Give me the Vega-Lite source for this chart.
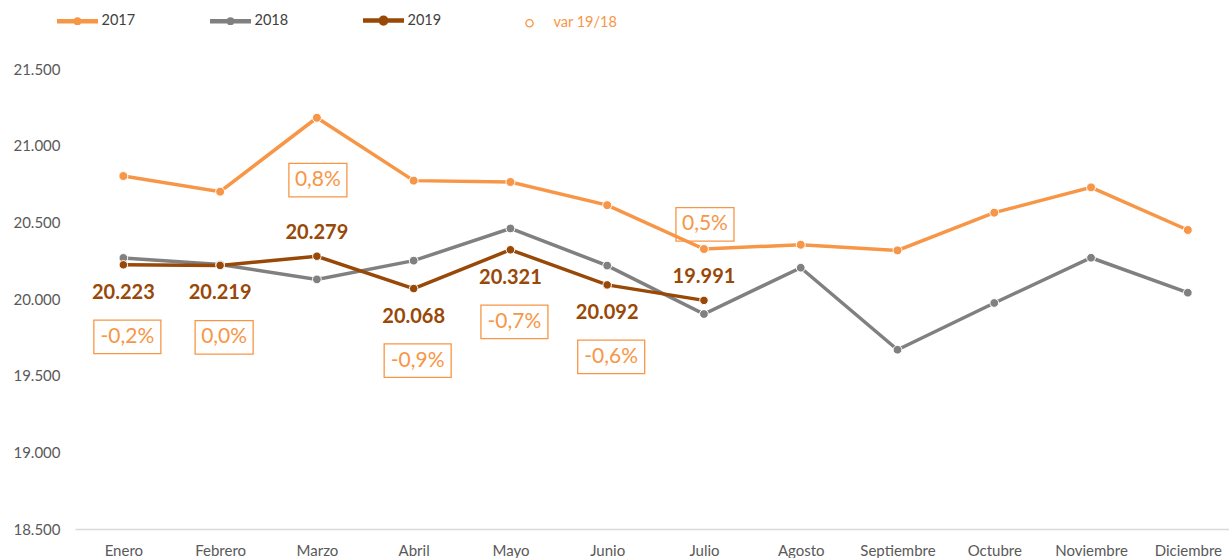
{
  "$schema": "https://vega.github.io/schema/vega-lite/v6.json",
  "width": 1154,
  "height": 460,
  "autosize": {"type": "none"},
  "padding": {"left": 75, "top": 69, "right": 0, "bottom": 29},
  "background": "white",
  "config": {
    "font": "Lato",
    "view": {"stroke": null},
    "locale": {"number": {"decimal": ",", "thousands": ".", "grouping": [3], "currency": ["", " €"], "minus": "-"}}
  },
  "datasets": {
    "main": [
      {"mes": "Enero", "serie": "2017", "valor": 20802},
      {"mes": "Febrero", "serie": "2017", "valor": 20700},
      {"mes": "Marzo", "serie": "2017", "valor": 21182},
      {"mes": "Abril", "serie": "2017", "valor": 20772},
      {"mes": "Mayo", "serie": "2017", "valor": 20763},
      {"mes": "Junio", "serie": "2017", "valor": 20612},
      {"mes": "Julio", "serie": "2017", "valor": 20326},
      {"mes": "Agosto", "serie": "2017", "valor": 20354},
      {"mes": "Septiembre", "serie": "2017", "valor": 20317},
      {"mes": "Octubre", "serie": "2017", "valor": 20563},
      {"mes": "Noviembre", "serie": "2017", "valor": 20728},
      {"mes": "Diciembre", "serie": "2017", "valor": 20450},
      {"mes": "Enero", "serie": "2018", "valor": 20268},
      {"mes": "Febrero", "serie": "2018", "valor": 20225},
      {"mes": "Marzo", "serie": "2018", "valor": 20128},
      {"mes": "Abril", "serie": "2018", "valor": 20250},
      {"mes": "Mayo", "serie": "2018", "valor": 20460},
      {"mes": "Junio", "serie": "2018", "valor": 20218},
      {"mes": "Julio", "serie": "2018", "valor": 19902},
      {"mes": "Agosto", "serie": "2018", "valor": 20204},
      {"mes": "Septiembre", "serie": "2018", "valor": 19669},
      {"mes": "Octubre", "serie": "2018", "valor": 19974},
      {"mes": "Noviembre", "serie": "2018", "valor": 20269},
      {"mes": "Diciembre", "serie": "2018", "valor": 20041},
      {"mes": "Enero", "serie": "2019", "valor": 20223, "var": -0.002},
      {"mes": "Febrero", "serie": "2019", "valor": 20219, "var": 0.0},
      {"mes": "Marzo", "serie": "2019", "valor": 20279, "var": 0.008},
      {"mes": "Abril", "serie": "2019", "valor": 20068, "var": -0.009},
      {"mes": "Mayo", "serie": "2019", "valor": 20321, "var": -0.007},
      {"mes": "Junio", "serie": "2019", "valor": 20092, "var": -0.006},
      {"mes": "Julio", "serie": "2019", "valor": 19991, "var": 0.005}
    ]
  },
  "data": {"name": "main"},
  "encoding": {
    "x": {
      "field": "mes", "type": "ordinal",
      "sort": ["Enero", "Febrero", "Marzo", "Abril", "Mayo", "Junio", "Julio", "Agosto", "Septiembre", "Octubre", "Noviembre", "Diciembre"],
      "scale": {"padding": 0.4627, "align": 0.54},
      "axis": {"title": null, "labelAngle": 0, "ticks": false, "domain": true, "domainColor": "#D9D9D9", "domainWidth": 1.5, "labelFontSize": 15, "labelColor": "#595959", "labelPadding": 14, "grid": false}
    },
    "y": {
      "field": "valor", "type": "quantitative",
      "scale": {"domain": [18500, 21500], "nice": false, "zero": false},
      "axis": {"title": null, "values": [18500, 19000, 19500, 20000, 20500, 21000, 21500], "format": ",d", "domain": false, "ticks": false, "grid": false, "labelFontSize": 15, "labelColor": "#595959", "labelPadding": 15}
    }
  },
  "layer": [
    {
      "mark": {"type": "line", "strokeWidth": 3.5},
      "encoding": {
        "color": {
          "field": "serie", "type": "nominal",
          "scale": {"domain": ["2017", "2018", "2019", "var 19/18"], "range": ["#F79646", "#808080", "#984807", "#F79646"]},
          "legend": {
            "orient": "none", "legendX": -20.5, "legendY": -71.5, "direction": "horizontal", "title": null,
            "symbolSize": 1681, "labelFontSize": 14.5, "labelColor": "#404040", "columnPadding": 65, "labelOffset": 1, "padding": 0,
            "symbolStrokeWidth": 4.5,
            "encode": {
              "symbols": {"update": {
                "size": {"value": 1681},
                "strokeWidth": {"value": 4.5},
                "shape": {"signal": "datum.value == 'var 19/18' ? 'M0.21,0A0.21,0.21,0,1,1,-0.21,0A0.21,0.21,0,1,1,0.21,0ZM0.145,0A0.145,0.145,0,1,0,-0.145,0A0.145,0.145,0,1,0,0.145,0Z' : (datum.value == '2019' ? 'M-1,0L1,0M0.135,0A0.135,0.135,0,1,1,-0.135,0A0.135,0.135,0,1,1,0.135,0Z' : 'M-1,0L1,0M0.08,0A0.08,0.08,0,1,1,-0.08,0A0.08,0.08,0,1,1,0.08,0Z')"},
                "fill": {"signal": "datum.value == 'var 19/18' ? '#E46C0A' : scale('color', datum.value)"},
                "fillOpacity": {"value": 1},
                "stroke": {"signal": "scale('color', datum.value)"},
                "strokeOpacity": {"signal": "datum.value == 'var 19/18' ? 0 : 1"},
                "opacity": {"value": 1}
              }},
              "labels": {"update": {"fill": {"signal": "datum.value == 'var 19/18' ? '#F79646' : '#404040'"}}}
            }
          }
        }
      }
    },
    {
      "mark": {"type": "point", "filled": true, "opacity": 1, "stroke": "white", "strokeWidth": 1},
      "encoding": {
        "color": {"field": "serie", "type": "nominal"},
        "size": {"field": "serie", "type": "nominal", "scale": {"domain": ["2017", "2018", "2019"], "range": [80, 72, 115]}, "legend": null}
      }
    },
    {
      "transform": [{"filter": "datum.serie == '2019' && datum['var'] <= 0"}],
      "mark": {"type": "text", "dy": 28, "fontSize": 20, "fontWeight": "bold", "color": "#984807", "baseline": "middle"},
      "encoding": {"text": {"field": "valor", "type": "quantitative", "format": ",d"}}
    },
    {
      "transform": [{"filter": "datum.serie == '2019' && datum['var'] > 0"}],
      "mark": {"type": "text", "dy": -23, "fontSize": 20, "fontWeight": "bold", "color": "#984807", "baseline": "middle"},
      "encoding": {"text": {"field": "valor", "type": "quantitative", "format": ",d"}}
    },
    {
      "transform": [{"filter": "datum.serie == '2019' && datum['var'] <= 0"}],
      "mark": {"type": "point", "filled": false, "opacity": 1, "stroke": "#F79646", "strokeWidth": 1.3, "size": 4489, "yOffset": 72, "xOffset": 4},
      "encoding": {
        "shape": {"condition": {"test": "datum['var'] < 0", "value": "M-1,-0.5L1,-0.5L1,0.5L-1,0.5Z"}, "value": "M-0.866,-0.5L0.866,-0.5L0.866,0.5L-0.866,0.5Z"}
      }
    },
    {
      "transform": [{"filter": "datum.serie == '2019' && datum['var'] > 0"}],
      "mark": {"type": "point", "filled": false, "opacity": 1, "stroke": "#F79646", "strokeWidth": 1.3, "size": 4489, "yOffset": -76, "xOffset": 1, "shape": "M-0.866,-0.5L0.866,-0.5L0.866,0.5L-0.866,0.5Z"}
    },
    {
      "transform": [{"filter": "datum.serie == '2019' && datum['var'] <= 0"}],
      "mark": {"type": "text", "dy": 72, "dx": 4, "fontSize": 21, "color": "#F79646", "baseline": "middle"},
      "encoding": {"text": {"field": "var", "type": "quantitative", "format": ".1%"}}
    },
    {
      "transform": [{"filter": "datum.serie == '2019' && datum['var'] > 0"}],
      "mark": {"type": "text", "dy": -76, "dx": 1, "fontSize": 21, "color": "#F79646", "baseline": "middle"},
      "encoding": {"text": {"field": "var", "type": "quantitative", "format": ".1%"}}
    }
  ]
}
